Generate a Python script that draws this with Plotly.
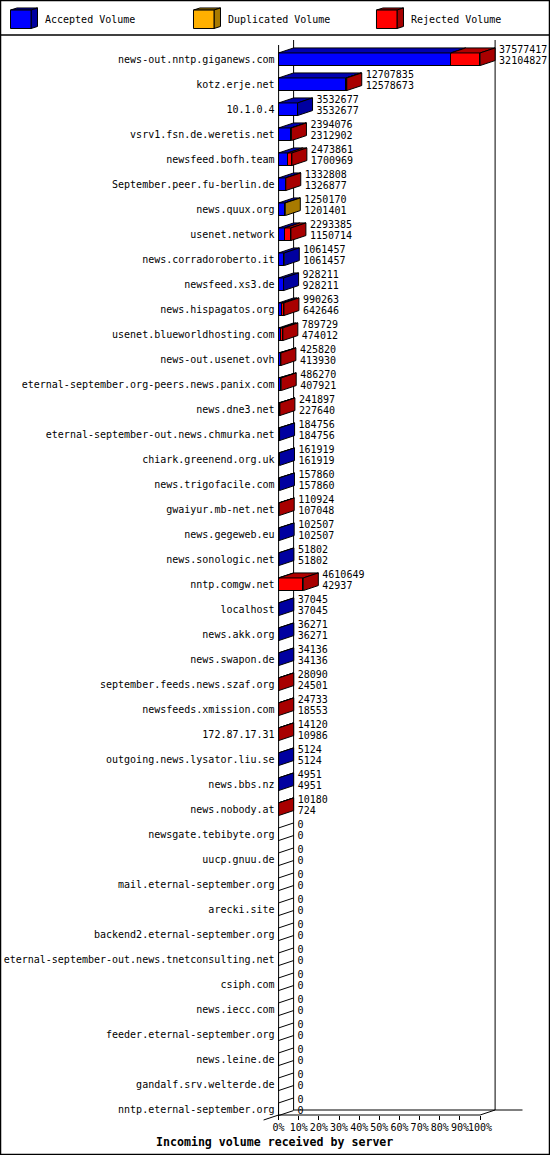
import plotly.graph_objects as go

servers = ['news-out.nntp.giganews.com', 'kotz.erje.net', '10.1.0.4', 'vsrv1.fsn.de.weretis.net',
           'newsfeed.bofh.team', 'September.peer.fu-berlin.de', 'news.quux.org', 'usenet.network',
           'news.corradoroberto.it', 'newsfeed.xs3.de', 'news.hispagatos.org', 'usenet.blueworldhosting.com',
           'news-out.usenet.ovh', 'eternal-september.org-peers.news.panix.com', 'news.dne3.net',
           'eternal-september-out.news.chmurka.net', 'chiark.greenend.org.uk', 'news.trigofacile.com',
           'gwaiyur.mb-net.net', 'news.gegeweb.eu', 'news.sonologic.net', 'nntp.comgw.net', 'localhost',
           'news.akk.org', 'news.swapon.de', 'september.feeds.news.szaf.org', 'newsfeeds.xmission.com',
           '172.87.17.31', 'outgoing.news.lysator.liu.se', 'news.bbs.nz', 'news.nobody.at',
           'newsgate.tebibyte.org', 'uucp.gnuu.de', 'mail.eternal-september.org', 'arecki.site',
           'backend2.eternal-september.org', 'eternal-september-out.news.tnetconsulting.net', 'csiph.com',
           'news.iecc.com', 'feeder.eternal-september.org', 'news.leine.de', 'gandalf.srv.welterde.de',
           'nntp.eternal-september.org']

offered = [37577417, 12707835, 3532677, 2394076, 2473861, 1332808, 1250170, 2293385, 1061457, 928211,
           990263, 789729, 425820, 486270, 241897, 184756, 161919, 157860, 110924, 102507, 51802,
           4610649, 37045, 36271, 34136, 28090, 24733, 14120, 5124, 4951, 10180,
           0, 0, 0, 0, 0, 0, 0, 0, 0, 0, 0, 0]
accepted = [32104827, 12578673, 3532677, 2312902, 1700969, 1326877, 1201401, 1150714, 1061457, 928211,
            642646, 474012, 413930, 407921, 227640, 184756, 161919, 157860, 107048, 102507, 51802,
            42937, 37045, 36271, 34136, 24501, 18553, 10986, 5124, 4951, 724,
            0, 0, 0, 0, 0, 0, 0, 0, 0, 0, 0, 0]
# only news.quux.org has duplicates, the rest of the gap is rejected
duplicated = [0] * 43
duplicated[6] = 48769
rejected = [o - a - d for o, a, d in zip(offered, accepted, duplicated)]

tick_pct = [0, 10, 20, 30, 40, 50, 60, 70, 80, 90, 100]
tick_text = ['0%', '10%', '20%', '30%', '40%', '50%', '60%', '70%', '80%', '90%', '100%']
legend_names = ['Accepted Volume', 'Duplicated Volume', 'Rejected Volume']

W, H = 550, 1155
X0, PX_PCT = 278.6, 2.015   # pixel of 0%, pixels per percent
Y0, PX_ROW = 59.25, 25.0    # pixel of first row, pixels per row
DX = 15 / PX_PCT
DY = 5 / PX_ROW
HALF = 6.3 / PX_ROW

FONT = 'DejaVu Sans Mono'
FRONT = ['#0000ff', '#ffb000', '#ff0000']
TOP = ['#0000b0', '#b08000', '#b00000']
SIDE = ['#0000a0', '#a87a00', '#a80000']


def pct(v):
    return v * 100.0 / max(offered)

def row(px):
    return (px - Y0) / PX_ROW

def col(px):
    return (px - X0) / PX_PCT

def px_path(points):
    # legend boxes live in paper space
    s = ''
    for i, (x, y) in enumerate(points):
        s += ('M' if i == 0 else 'L') + ' %.4f %.4f ' % (x / W, 1 - y / H)
    return s + 'Z'


rows = list(range(len(servers)))
fig = go.Figure()

for i, vals in enumerate([accepted, duplicated, rejected]):
    fig.add_trace(go.Bar(
        y=rows, x=[pct(v) for v in vals], orientation='h', width=HALF * 2,
        marker=dict(color=FRONT[i], line=dict(color='black', width=1)),
        showlegend=False, hoverinfo='skip'))

top_x, top_y = [[], [], []], [[], [], []]
side_x, side_y = [[], [], []], [[], [], []]
zero_x, zero_y = [], []

for r in rows:
    if offered[r] == 0:
        for edge in (r - HALF, r + HALF):
            zero_x += [0, DX, None]
            zero_y += [edge, edge - DY, None]
        continue
    start = 0
    last = 0
    for i, vals in enumerate([accepted, duplicated, rejected]):
        if vals[r] == 0:
            continue
        end = start + pct(vals[r])
        top_x[i] += [start, start + DX, end + DX, end, start, None]
        top_y[i] += [r - HALF, r - HALF - DY, r - HALF - DY, r - HALF, r - HALF, None]
        start = end
        last = i
    side_x[last] += [start, start + DX, start + DX, start, start, None]
    side_y[last] += [r - HALF, r - HALF - DY, r + HALF - DY, r + HALF, r - HALF, None]

for i in range(3):
    for xs, ys, color in ((top_x[i], top_y[i], TOP[i]), (side_x[i], side_y[i], SIDE[i])):
        if xs:
            fig.add_trace(go.Scatter(
                x=xs, y=ys, mode='lines', fill='toself', fillcolor=color,
                line=dict(color='black', width=1), showlegend=False, hoverinfo='skip'))

fig.add_trace(go.Scatter(x=zero_x, y=zero_y, mode='lines', line=dict(color='black', width=1),
                         showlegend=False, hoverinfo='skip'))

label_x = [pct(v) + DX + 4 / PX_PCT for v in offered]
fig.add_trace(go.Scatter(
    x=label_x, y=[r - 0.34 for r in rows], mode='text', text=[str(v) for v in offered],
    textposition='middle right', textfont=dict(family=FONT, size=10, color='black'),
    showlegend=False, hoverinfo='skip', cliponaxis=False))
fig.add_trace(go.Scatter(
    x=label_x, y=[r + 0.09 for r in rows], mode='text', text=[str(v) for v in accepted],
    textposition='middle right', textfont=dict(family=FONT, size=10, color='black'),
    showlegend=False, hoverinfo='skip', cliponaxis=False))

# chart frame
frame = [
    (0, row(45), 0, row(1115)),
    (DX, row(40), DX, row(1110)),
    (100 + DX, row(40), 100 + DX, row(1110)),
    (0, row(1115), 100, row(1115)),
    (100, row(1115), 100 + DX, row(1110)),
    (DX, row(1110), col(522.5), row(1110)),
    (0, row(1115), -DX, row(1120)),
]
shapes = [dict(type='line', xref='x', yref='y', x0=a, y0=b, x1=c, y1=d, layer='below',
               line=dict(color='black', width=1)) for a, b, c, d in frame]

# outer border and legend separator
shapes.append(dict(type='rect', xref='paper', yref='paper', x0=0.5 / W, x1=1 - 0.5 / W, y0=0.5 / H, y1=1 - 0.5 / H,
                   line=dict(color='black', width=1.5)))
shapes.append(dict(type='line', xref='paper', yref='paper', x0=0, x1=1, y0=1 - 35 / H, y1=1 - 35 / H,
                   line=dict(color='black', width=1.5)))

annotations = []
box_left = [10.5, 193.5, 376.5]
text_left = [42.5, 225.5, 408.5]
for i in range(3):
    x = box_left[i]
    shapes.append(dict(type='path', xref='paper', yref='paper', fillcolor=TOP[i], line=dict(color='black', width=1),
                       path=px_path([(x, 10), (x + 6.5, 8), (x + 27, 8), (x + 20.5, 10)])))
    shapes.append(dict(type='path', xref='paper', yref='paper', fillcolor=SIDE[i], line=dict(color='black', width=1),
                       path=px_path([(x + 20.5, 10), (x + 27, 8), (x + 27, 26.5), (x + 20.5, 28.5)])))
    shapes.append(dict(type='path', xref='paper', yref='paper', fillcolor=FRONT[i], line=dict(color='black', width=1),
                       path=px_path([(x, 10), (x + 20.5, 10), (x + 20.5, 28.5), (x, 28.5)])))
    annotations.append(dict(xref='paper', yref='paper', x=text_left[i] / W, y=1 - 20 / H, text=legend_names[i],
                            showarrow=False, xanchor='left', yanchor='middle',
                            font=dict(family=FONT, size=10, color='black')))

annotations.append(dict(xref='paper', yref='paper', x=274 / W, y=1 - 1142 / H,
                        text='Incoming volume received by server', showarrow=False,
                        xanchor='center', yanchor='middle',
                        font=dict(family=FONT, size=11.6, color='black', weight='bold')))

fig.update_layout(
    width=W, height=H, margin=dict(l=0, r=0, t=0, b=0, pad=0),
    barmode='stack', bargap=0, paper_bgcolor='white', plot_bgcolor='white',
    shapes=shapes, annotations=annotations, showlegend=False,
    xaxis=dict(range=[col(0), col(W)], domain=[0, 1], anchor='free', position=(H - 1115) / H,
               tickmode='array', tickvals=tick_pct, ticktext=tick_text, tickangle=0,
               ticks='outside', ticklen=4, tickcolor='black', tickwidth=1,
               ticklabelstandoff=-1,
               showgrid=False, zeroline=False, showline=False,
               tickfont=dict(family=FONT, size=10, color='black')),
    yaxis=dict(range=[row(H), row(0)], domain=[0, 1], anchor='free', position=X0 / W,
               tickmode='array', tickvals=rows, ticktext=servers,
               ticks='', ticklabelstandoff=4, showgrid=False, zeroline=False, showline=False,
               tickfont=dict(family=FONT, size=10, color='black')),
)

fig.write_html("out.html", config=dict(displayModeBar=False),
               post_script="document.body.style.margin='0';")
